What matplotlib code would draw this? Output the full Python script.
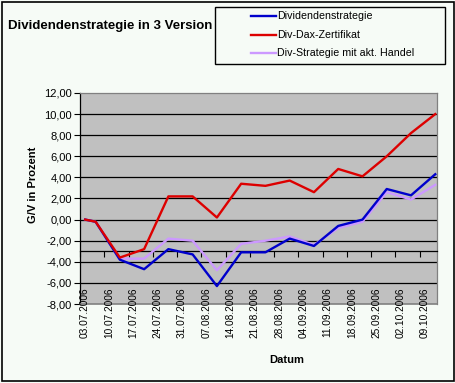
import numpy as np
import pandas as pd
import matplotlib as mpl
mpl.use("Agg")
import matplotlib.pyplot as plt
from matplotlib.patches import Rectangle
from matplotlib.lines import Line2D

mpl.rcParams['font.family'] = ['Liberation Sans', 'DejaVu Sans']

# Data (G/V in percent)
dates = ["04.07.2006", "07.07.2006", "14.07.2006", "21.07.2006", "28.07.2006",
         "04.08.2006", "11.08.2006", "18.08.2006", "25.08.2006", "01.09.2006",
         "08.09.2006", "15.09.2006", "22.09.2006", "29.09.2006", "06.10.2006",
         "13.10.2006"]
dividendenstrategie = [0.0, -0.2, -3.8, -4.7, -2.8, -3.3, -6.3, -3.1, -3.1, -1.8,
                       -2.5, -0.6, 0.0, 2.9, 2.3, 4.3]
div_dax_zertifikat = [0.0, -0.2, -3.6, -2.8, 2.2, 2.2, 0.2, 3.4, 3.2, 3.7,
                      2.6, 4.8, 4.1, 6.0, 8.2, 10.0]
div_strategie_handel = [0.0, -0.2, -3.7, -3.7, -1.8, -2.0, -4.8, -2.3, -2.0, -1.6,
                        -2.4, -0.8, -0.2, 2.6, 1.9, 3.3]

labels = ["Dividendenstrategie", "Div-Dax-Zertifikat", "Div-Strategie mit akt. Handel"]
colors = ["#0000cc", "#dd0000", "#cc99ff"]

x = pd.to_datetime(dates, format="%d.%m.%Y") + pd.Timedelta(hours=12)
ticks = pd.date_range("2006-07-03", "2006-10-09", freq="7D")

W, H = 456, 383
fig = plt.figure(figsize=(W / 100, H / 100), dpi=100)
fig.patch.set_facecolor("#f6fbf6")

# outer chart frame
fig.add_artist(Rectangle((2 / W, 1 - 381 / H), 452 / W, 379 / H,
                         transform=fig.transFigure, fill=False,
                         ec="black", lw=1.2))

ax = fig.add_axes([80 / W, 1 - 304 / H, 357 / W, 211 / H])
ax.set_facecolor("#c0c0c0")

for yy in np.arange(-6, 12, 2):
    ax.axhline(yy, color="black", lw=0.9, zorder=1)

# purple under blue, red on top
ax.plot(x, div_strategie_handel, color=colors[2], lw=1.7, zorder=3)
ax.plot(x, dividendenstrategie, color=colors[0], lw=1.7, zorder=4)
ax.plot(x, div_dax_zertifikat, color=colors[1], lw=1.7, zorder=5)

ax.set_ylim(-8, 12)
ax.set_yticks(np.arange(-8, 13, 2))
ax.set_yticklabels([("%.2f" % v).replace(".", ",") for v in np.arange(-8, 13, 2)],
                   fontsize=8)
ax.tick_params(axis="y", direction="out", length=4, width=0.8, pad=2)

ax.set_xlim(pd.Timestamp("2006-07-03"), pd.Timestamp("2006-10-14"))
ax.set_xticks(ticks)
ax.tick_params(axis="x", direction="out", length=4, width=0.8, labelbottom=False)

# category axis crosses at -3
ax.spines["bottom"].set_position(("data", -3))
ax.spines["bottom"].set_color("black")
ax.spines["bottom"].set_linewidth(0.9)
ax.spines["left"].set_color("black")
ax.spines["left"].set_linewidth(0.9)
for s in ["top", "right"]:
    ax.spines[s].set_color("#808080")
    ax.spines[s].set_linewidth(0.9)
# grey bottom border of plot area
ax.axhline(-8, color="#808080", lw=1.2, zorder=6, clip_on=False)

for t in ticks:
    ax.text(t, 0.08, t.strftime("%d.%m.%Y"), rotation=90, ha="left", va="top",
            fontsize=7.3, transform=ax.get_xaxis_transform(), clip_on=False,
            zorder=7)

fig.text(287 / W, 1 - 360 / H, "Datum", ha="center", va="center",
         fontsize=8, weight="bold")
fig.text(33 / W, 1 - 185 / H, "G/V in Prozent", ha="center", va="center",
         rotation=90, fontsize=8, weight="bold")
fig.text(8 / W, 1 - 26 / H, "Dividendenstrategie in 3 Version", ha="left",
         va="center", fontsize=9.5, weight="bold")

# legend box
fig.add_artist(Rectangle((215 / W, 1 - 64 / H), 230 / W, 57 / H,
                         transform=fig.transFigure, fill=False,
                         ec="black", lw=1.0))
for i, (lab, c) in enumerate(zip(labels, colors)):
    yy = 1 - (15.7 + 18.8 * i) / H
    fig.add_artist(Line2D([251 / W, 276 / W], [yy, yy], color=c, lw=1.7,
                          transform=fig.transFigure))
    fig.text(277 / W, yy, lab, ha="left", va="center", fontsize=7.7)

fig.savefig("out.png", dpi=100, facecolor=fig.get_facecolor())
